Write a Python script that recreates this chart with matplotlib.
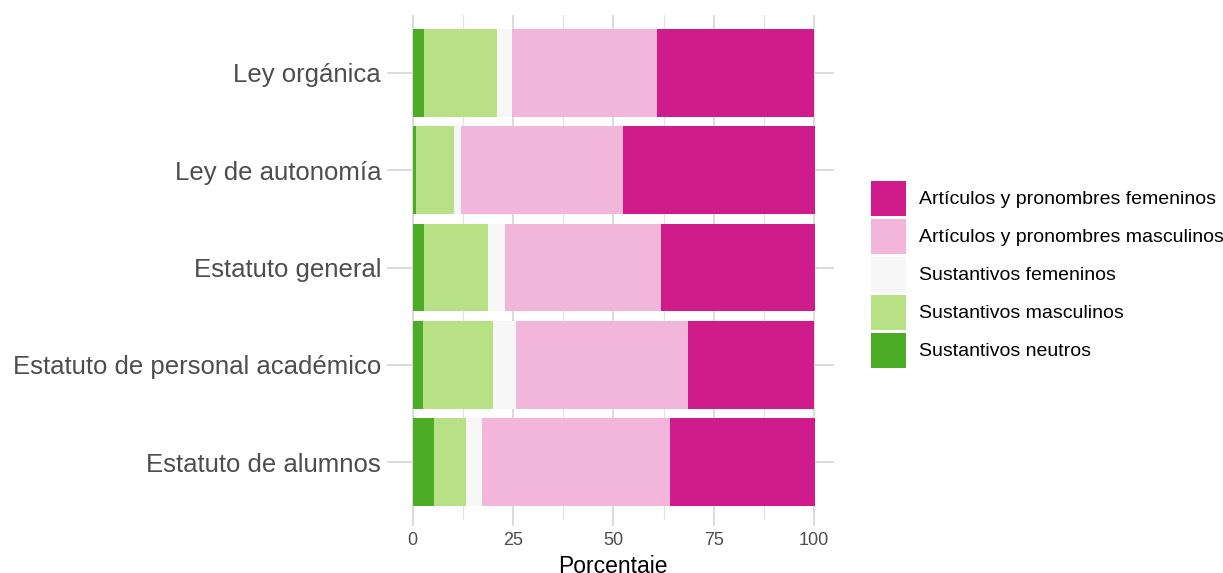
import matplotlib
matplotlib.use("Agg")
import matplotlib.pyplot as plt
from matplotlib.patches import Patch
import numpy as np

plt.rcParams['font.family'] = ['Liberation Sans', 'DejaVu Sans']

categories = ["Ley orgánica", "Ley de autonomía", "Estatuto general",
              "Estatuto de personal académico", "Estatuto de alumnos"]
series_names = ["Sustantivos neutros", "Sustantivos masculinos", "Sustantivos femeninos",
                "Artículos y pronombres masculinos", "Artículos y pronombres femeninos"]
sust_neutros = [2.8, 0.8, 2.8, 2.6, 5.3]
sust_masculinos = [18.2, 9.5, 16.0, 17.3, 8.0]
sust_femeninos = [3.8, 1.7, 4.2, 5.8, 4.0]
art_masculinos = [36.1, 40.4, 38.8, 42.9, 46.8]
art_femeninos = [39.1, 47.9, 38.5, 31.4, 36.2]
colors = ["#4DAC26", "#B8E186", "#F7F7F7", "#F1B6DA", "#D01C8B"]
x_ticks = [0, 25, 50, 75, 100]

W, H = 1223, 573
fig = plt.figure(figsize=(W / 100, H / 100), dpi=100)
left, right = 392.6 / W, 834.1 / W
top, bottom = 1 - 14.6 / H, 1 - 520.4 / H
ax = fig.add_axes([left, bottom, right - left, top - bottom])

series = [sust_neutros, sust_masculinos, sust_femeninos, art_masculinos, art_femeninos]
y = np.arange(len(categories))
cum = np.zeros(len(categories))
for vals, col in zip(series, colors):
    v = np.array(vals)
    ax.barh(y, v, left=cum, height=0.9, color=col, edgecolor='none', zorder=3)
    cum += v

ax.set_xlim(-5, 105)
ax.set_ylim(len(categories) - 0.4, -0.6)
ax.set_yticks(y)
ax.set_yticklabels(categories)
ax.set_xticks(x_ticks)
ax.set_xticklabels([str(t) for t in x_ticks])
ax.set_xticks([12.5, 37.5, 62.5, 87.5], minor=True)

grid_col = "#D9D9D9"
ax.grid(True, which='major', color=grid_col, linewidth=1.3, zorder=0)
ax.grid(True, which='minor', axis='x', color="#E3E3E3", linewidth=0.9, zorder=0)
ax.set_axisbelow(True)
for s in ax.spines.values():
    s.set_visible(False)

ax.tick_params(axis='y', length=4.0, width=1.3, color=grid_col, pad=4.3,
               labelsize=18.5, labelcolor="#4D4D4D")
ax.tick_params(axis='x', which='major', length=4.0, width=1.3, color=grid_col, pad=4,
               labelsize=13, labelcolor="#4D4D4D")
ax.tick_params(axis='x', which='minor', length=0)

ax.set_xlabel("Porcentaje", fontsize=16.5, color="black", labelpad=5)

fs_leg = 14.0
fs_px = fs_leg * 100 / 72
key_pt = 35 * 72 / 100
hh = (key_pt / fs_leg - 0.245) / 0.65
handles = [Patch(facecolor=c, edgecolor='none') for c in colors][::-1]
labels = series_names[::-1]
leg = fig.legend(handles, labels, loc='upper left',
                 bbox_to_anchor=(871 / W, 1 - 181 / H), bbox_transform=fig.transFigure,
                 frameon=False, fontsize=fs_leg, borderpad=0, borderaxespad=0,
                 handlelength=35 / fs_px, handleheight=hh,
                 labelspacing=3 / fs_px, handletextpad=13 / fs_px)

fig.savefig("out.png", dpi=100)
